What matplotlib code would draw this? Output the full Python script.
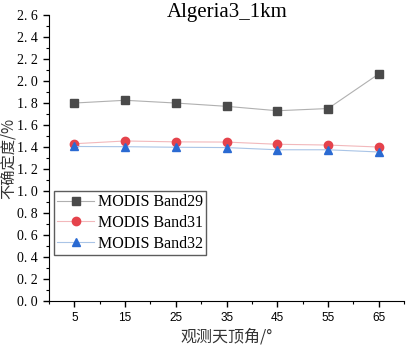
import matplotlib
matplotlib.use("Agg")
import matplotlib.pyplot as plt
from matplotlib.ticker import MultipleLocator

angles = [5, 15, 25, 35, 45, 55, 65]
band29 = [1.80, 1.825, 1.80, 1.77, 1.73, 1.75, 2.065]
band31 = [1.43, 1.455, 1.447, 1.445, 1.425, 1.418, 1.40]
band32 = [1.405, 1.403, 1.398, 1.395, 1.375, 1.375, 1.355]
labels = ["MODIS Band29", "MODIS Band31", "MODIS Band32"]
yticks = [0.0, 0.2, 0.4, 0.6, 0.8, 1.0, 1.2, 1.4, 1.6, 1.8, 2.0, 2.2, 2.4, 2.6]

fig = plt.figure(figsize=(4.12, 3.47), dpi=100)
ax = fig.add_axes([0.119, 0.1326, 0.862, 0.824])

ax.plot(angles, band29, color="#b0b0b0", lw=0.8, marker="s", ms=5.5,
        mfc="#4a4a4a", mec="#4a4a4a", label=labels[0])
ax.plot(angles, band31, color="#f2b8bb", lw=0.8, marker="o", ms=6,
        mfc="#e5434c", mec="#e5434c", label=labels[1])
ax.plot(angles, band32, color="#a9c4e6", lw=0.8, marker="^", ms=6,
        mfc="#2a6ad2", mec="#2a6ad2", label=labels[2])

ax.set_xlim(0, 70)
ax.set_ylim(0, 2.6)
ax.set_xticks(angles)
ax.xaxis.set_minor_locator(MultipleLocator(5))
ax.set_yticks(yticks)
ax.set_yticklabels([f"{v:.1f}".replace(".", ". ") for v in yticks],
                   family=["Liberation Serif"], fontsize=10)
ax.yaxis.set_minor_locator(MultipleLocator(0.1))
for lab in ax.get_xticklabels():
    lab.set_family(["Liberation Sans"])
    lab.set_fontsize(8.5)

for s in ["top", "right"]:
    ax.spines[s].set_visible(False)
ax.tick_params(which="major", direction="out", length=4, width=1, pad=4)
ax.tick_params(which="minor", direction="out", length=2, width=0.8)

ax.set_xlabel("观测天顶角/°", family=["Noto Sans CJK SC", "DejaVu Sans"],
              fontsize=11.5, color="#333333", labelpad=3)
ax.set_ylabel("不确定度/%", family=["Noto Sans CJK SC", "DejaVu Sans"],
              fontsize=11, color="#333333")
ax.yaxis.set_label_coords(-0.092, 0.5)
fig.text(0.551, 1 - 13 / 347, "Algeria3_1km", family=["Liberation Serif"],
         fontsize=15, ha="center", va="center")

leg = ax.legend(loc="upper left", bbox_to_anchor=(0.014, 0.385),
                prop={"family": "Liberation Serif", "size": 11.5},
                frameon=True, fancybox=False, edgecolor="#333333",
                borderpad=0.2, labelspacing=0.3, handlelength=2.3,
                handletextpad=0.25, borderaxespad=0)
leg.get_frame().set_linewidth(1)

fig.savefig("out.png", dpi=100)
